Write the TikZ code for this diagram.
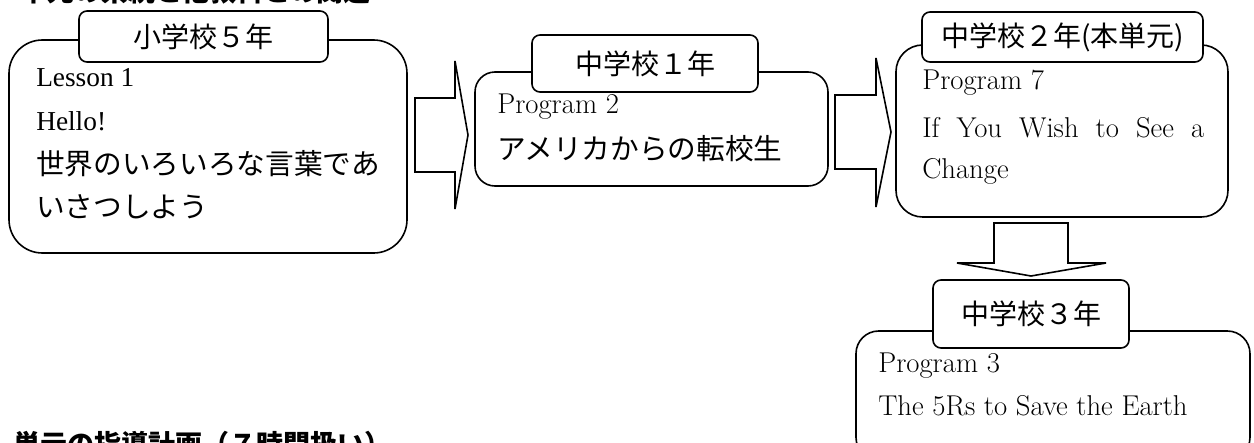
\documentclass[tikz,border=0pt]{standalone}
\usepackage{fontspec}
\newfontfamily\jp{Noto Sans CJK JP}
\newfontfamily\tms{Liberation Serif}
\tikzset{
  frame/.style={draw, line width=1.2pt, inner sep=0pt, fill=white},
  mainbox/.style={frame},
  lbl/.style={frame, rounded corners=6pt, font=\jp\fontsize{21}{25}\selectfont},
  txt/.style={anchor=base west, inner sep=0pt, font=\fontsize{21.5}{26}\selectfont},
  ttxt/.style={anchor=base west, inner sep=0pt, font=\tms\fontsize{20.5}{25}\selectfont},
  jtxt/.style={anchor=base west, inner sep=0pt, font=\jp\fontsize{21.5}{26}\selectfont},
  head/.style={anchor=base west, inner sep=0pt, font=\jp\bfseries\fontsize{20.25}{24}\selectfont},
  blockarrow/.style={draw, line width=1.2pt, fill=white, line join=miter},
}
\begin{document}
\begin{tikzpicture}[x=0.75pt,y=-0.75pt]
\useasboundingbox (0,0) rectangle (1254,443);
\clip (0,0) rectangle (1254,443);

% headings (cut by the page edges)
\node[head] (h1) at (20,1.5) {単元の系統と他教科との関連};
\node[head] (h2) at (13,454) {単元の指導計画（７時間扱い）};

% main boxes
\node[mainbox, rounded corners=25pt, minimum width=298.5pt, minimum height=159.75pt] (b1) at (208,146.5) {};
\node[mainbox, rounded corners=15pt, minimum width=264.75pt, minimum height=85.5pt] (b2) at (651.5,129) {};
\node[mainbox, rounded corners=20pt, minimum width=249pt, minimum height=129pt] (b3) at (1062,131) {};
\node[mainbox, rounded corners=17pt, minimum width=295.5pt, minimum height=96.75pt] (b4) at (1053,395.5) {};

% labels
\node[lbl, minimum width=186.75pt, minimum height=38.25pt] (l1) at (203.5,36.5) {小学校５年};
\node[lbl, minimum width=169.5pt, minimum height=42.75pt] (l2) at (645,63.5) {中学校１年};
\node[lbl, minimum width=210.75pt, minimum height=37.5pt] (l3) at (1062.5,37) {中学校２年(本単元)};
\node[lbl, minimum width=147pt, minimum height=51pt] (l4) at (1031,314) {中学校３年};

% block arrows
\draw[blockarrow] (415,98) -- (455,98) -- (455,61) -- (468,135) -- (455,209) -- (455,172) -- (415,172) -- cycle;
\draw[blockarrow] (835,95) -- (876,95) -- (876,58) -- (891,132) -- (876,207) -- (876,169) -- (835,169) -- cycle;
\draw[blockarrow] (994,223) -- (1068,223) -- (1068,263) -- (1106,263) -- (1031,276) -- (957,263) -- (994,263) -- cycle;

% texts box 1
\node[ttxt] (t1a) at (36,86) {Lesson 1};
\node[ttxt] (t1b) at (36,130) {Hello!};
\node[jtxt] (t1c) at (36,174) {世界のいろいろな言葉であ};
\node[jtxt] (t1d) at (36,217) {いさつしよう};

% texts box 2
\node[txt] (t2a) at (497,113) {Program 2};
\node[jtxt] (t2b) at (497,159) {アメリカからの転校生};

% texts box 3
\node[txt] (t3a) at (922,89) {Program 7};
\node[txt] (t3b) at (922,137) {\makebox[211.5pt][s]{If You Wish to See a}};
\node[txt] (t3c) at (922,178) {Change};

% texts box 4
\node[txt] (t4a) at (878,372) {Program 3};
\node[txt] (t4b) at (878,415) {The 5Rs to Save the Earth};
\end{tikzpicture}
\end{document}
